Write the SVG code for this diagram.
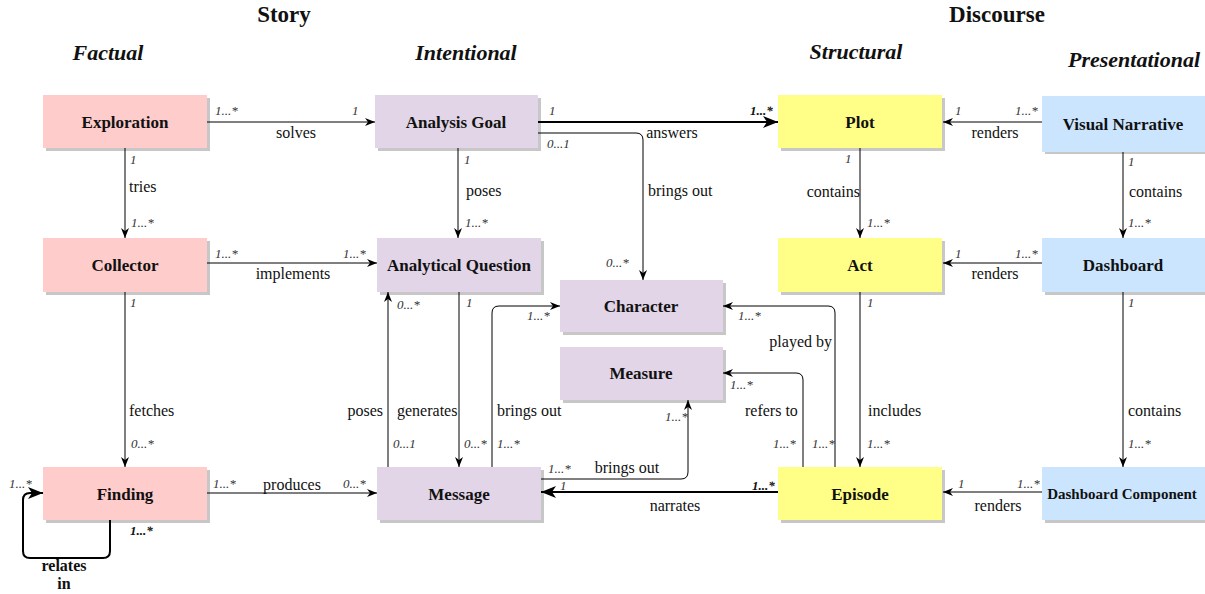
<svg xmlns="http://www.w3.org/2000/svg" width="1205" height="594" viewBox="0 0 1205 594" font-family="'Liberation Serif', 'Times New Roman', 'DejaVu Serif', serif">
<style>
text{font-family:'Liberation Serif','Times New Roman','DejaVu Serif',serif}
.hdr{font-size:23px;font-weight:bold;fill:#111;text-anchor:middle}
.sub{font-size:22px;font-weight:bold;font-style:italic;fill:#111;text-anchor:middle}
.nt{font-size:17px;font-weight:bold;fill:#111;text-anchor:middle;dominant-baseline:central}
.sh{fill:#000;opacity:0.22}
.pink{fill:#ffcccc}
.purp{fill:#e1d5e7}
.yel{fill:#ffff88}
.blue{fill:#cce5ff}
.ln{fill:none;stroke:#000;stroke-width:1}
.thk{fill:none;stroke:#000;stroke-width:2}
.lb{font-size:16px;fill:#111}
.m{font-size:13px;font-style:italic;fill:#333}
.mb{font-size:13px;font-style:italic;font-weight:bold;fill:#111}
.c{text-anchor:middle}
.e{text-anchor:end}
</style>
<defs>
<marker id="arr" markerUnits="userSpaceOnUse" markerWidth="10" markerHeight="10" viewBox="0 0 10 10" refX="10" refY="5" orient="auto">
<path d="M0,1 L10,5 L0,9 L3,5 z" fill="#000"/>
</marker>
<marker id="arrB" markerUnits="userSpaceOnUse" markerWidth="15" markerHeight="14" viewBox="0 0 15 14" refX="15" refY="7" orient="auto">
<path d="M0,1 L15,7 L0,13 L4,7 z" fill="#000"/>
</marker>
</defs>

<g id="headers">
<text class="hdr" x="284" y="22">Story</text>
<text class="hdr" x="997" y="22">Discourse</text>
<text class="sub" x="108" y="60">Factual</text>
<text class="sub" x="466" y="60">Intentional</text>
<text class="sub" x="856" y="59">Structural</text>
<text class="sub" x="1134" y="67">Presentational</text>
</g>

<g id="connectors">
<path class="ln" d="M207,122 H375" marker-end="url(#arr)"/>
<text class="m" x="215" y="115">1...*</text>
<text class="m" x="352" y="115">1</text>
<text class="lb c" x="296" y="138">solves</text>
<path class="ln" d="M125,148 V238" marker-end="url(#arr)"/>
<text class="m" x="130" y="164">1</text>
<text class="lb" x="129" y="192">tries</text>
<text class="m" x="131" y="227">1...*</text>
<path class="ln" d="M207,263 H377" marker-end="url(#arr)"/>
<text class="m" x="215" y="258">1...*</text>
<text class="m" x="343" y="258">1...*</text>
<text class="lb c" x="293" y="279">implements</text>
<path class="ln" d="M125,292 V467" marker-end="url(#arr)"/>
<text class="m" x="130" y="307">1</text>
<text class="lb" x="129" y="416">fetches</text>
<text class="m" x="131" y="448">0...*</text>
<path class="ln" d="M207,493 H377" marker-end="url(#arr)"/>
<text class="m" x="213" y="488">1...*</text>
<text class="m" x="343" y="488">0...*</text>
<text class="lb c" x="292" y="490">produces</text>
<path class="thk" d="M110,520 V551 Q110,558 103,558 H30 Q23,558 23,551 V500 Q23,493 30,493 H43" marker-end="url(#arrB)"/>
<text class="m" x="9" y="488">1...*</text>
<text class="mb" x="130" y="535">1...*</text>
<text class="lb c" x="64" y="571" font-weight="bold">relates</text>
<text class="lb c" x="64" y="589" font-weight="bold">in</text>
<path class="thk" d="M538,122 H778" marker-end="url(#arrB)"/>
<text class="m" x="549" y="115">1</text>
<text class="mb" x="750" y="115">1...*</text>
<text class="lb c" x="672" y="138">answers</text>
<path class="ln" d="M538,133 H636 Q643,133 643,140 V280" marker-end="url(#arr)"/>
<text class="m" x="547" y="148">0...1</text>
<text class="lb" x="648" y="196">brings out</text>
<text class="m" x="606" y="267">0...*</text>
<path class="ln" d="M458,148 V238" marker-end="url(#arr)"/>
<text class="m" x="464" y="164">1</text>
<text class="lb" x="466" y="196">poses</text>
<text class="m" x="465" y="227">1...*</text>
<path class="ln" d="M459,292 V467" marker-end="url(#arr)"/>
<text class="m" x="466" y="307">1</text>
<text class="lb" x="397" y="416">generates</text>
<text class="m" x="464" y="448">0...*</text>
<path class="ln" d="M388,467 V292" marker-end="url(#arr)"/>
<text class="m" x="393" y="448">0...1</text>
<text class="m" x="397" y="309">0...*</text>
<text class="lb e" x="383" y="416">poses</text>
<path class="ln" d="M492,467 V313 Q492,306 499,306 H560" marker-end="url(#arr)"/>
<text class="m" x="497" y="448">1...*</text>
<text class="lb" x="497" y="416">brings out</text>
<text class="m" x="527" y="320">1...*</text>
<path class="ln" d="M541,479 H681 Q688,479 688,472 V400" marker-end="url(#arr)"/>
<text class="m" x="548" y="473">1...*</text>
<text class="lb c" x="627" y="473">brings out</text>
<text class="m" x="665" y="421">1...*</text>
<path class="thk" d="M778,492 H541" marker-end="url(#arrB)"/>
<text class="m" x="560" y="490">1</text>
<text class="mb" x="752" y="490">1...*</text>
<text class="lb c" x="675" y="511">narrates</text>
<path class="ln" d="M835,467 V313 Q835,306 828,306 H723" marker-end="url(#arr)"/>
<text class="m" x="738" y="320">1...*</text>
<text class="lb e" x="832" y="347">played by</text>
<text class="m" x="812" y="448">1...*</text>
<path class="ln" d="M803,467 V380 Q803,373 796,373 H723" marker-end="url(#arr)"/>
<text class="m" x="730" y="389">1...*</text>
<text class="lb" x="745" y="416">refers to</text>
<text class="m" x="773" y="448">1...*</text>
<path class="ln" d="M860,148 V238" marker-end="url(#arr)"/>
<text class="m" x="845" y="163">1</text>
<text class="lb e" x="860" y="197">contains</text>
<text class="m" x="867" y="227">1...*</text>
<path class="ln" d="M860,292 V467" marker-end="url(#arr)"/>
<text class="m" x="867" y="307">1</text>
<text class="lb" x="868" y="416">includes</text>
<text class="m" x="867" y="448">1...*</text>
<path class="ln" d="M1042,122 H943" marker-end="url(#arr)"/>
<text class="m" x="955" y="115">1</text>
<text class="m" x="1015" y="115">1...*</text>
<text class="lb c" x="995" y="138">renders</text>
<path class="ln" d="M1042,263 H943" marker-end="url(#arr)"/>
<text class="m" x="955" y="258">1</text>
<text class="m" x="1015" y="258">1...*</text>
<text class="lb c" x="995" y="279">renders</text>
<path class="ln" d="M1123,152 V238" marker-end="url(#arr)"/>
<text class="m" x="1128" y="166">1</text>
<text class="lb" x="1129" y="197">contains</text>
<text class="m" x="1128" y="227">1...*</text>
<path class="ln" d="M1123,292 V467" marker-end="url(#arr)"/>
<text class="m" x="1128" y="307">1</text>
<text class="lb" x="1128" y="416">contains</text>
<text class="m" x="1128" y="448">1...*</text>
<path class="ln" d="M1042,492 H943" marker-end="url(#arr)"/>
<text class="m" x="958" y="488">1</text>
<text class="m" x="1017" y="488">1...*</text>
<text class="lb c" x="998" y="511">renders</text>
</g>

<g id="exploration"><rect class="sh" x="46" y="98" width="164" height="53"/><rect class="pink" x="43" y="95" width="164" height="53"/><text class="nt" x="125" y="122">Exploration</text></g>
<g id="collector"><rect class="sh" x="46" y="241" width="164" height="54"/><rect class="pink" x="43" y="238" width="164" height="54"/><text class="nt" x="125" y="265">Collector</text></g>
<g id="finding"><rect class="sh" x="46" y="470" width="164" height="53"/><rect class="pink" x="43" y="467" width="164" height="53"/><text class="nt" x="125" y="494">Finding</text></g>
<g id="analysis-goal"><rect class="sh" x="378" y="98" width="163" height="53"/><rect class="purp" x="375" y="95" width="163" height="53"/><text class="nt" x="456" y="122">Analysis Goal</text></g>
<g id="analytical-question"><rect class="sh" x="380" y="241" width="164" height="54"/><rect class="purp" x="377" y="238" width="164" height="54"/><text class="nt" x="459" y="265">Analytical Question</text></g>
<g id="character"><rect class="sh" x="563" y="283" width="163" height="52"/><rect class="purp" x="560" y="280" width="163" height="52"/><text class="nt" x="641" y="306">Character</text></g>
<g id="measure"><rect class="sh" x="563" y="350" width="163" height="53"/><rect class="purp" x="560" y="347" width="163" height="53"/><text class="nt" x="641" y="373">Measure</text></g>
<g id="message"><rect class="sh" x="380" y="470" width="164" height="53"/><rect class="purp" x="377" y="467" width="164" height="53"/><text class="nt" x="459" y="494">Message</text></g>
<g id="plot"><rect class="sh" x="781" y="98" width="164" height="53"/><rect class="yel" x="778" y="95" width="164" height="53"/><text class="nt" x="860" y="122">Plot</text></g>
<g id="act"><rect class="sh" x="781" y="241" width="164" height="54"/><rect class="yel" x="778" y="238" width="164" height="54"/><text class="nt" x="860" y="265">Act</text></g>
<g id="episode"><rect class="sh" x="781" y="470" width="164" height="53"/><rect class="yel" x="778" y="467" width="164" height="53"/><text class="nt" x="860" y="494">Episode</text></g>
<g id="visual-narrative"><rect class="sh" x="1045" y="99" width="163" height="55"/><rect class="blue" x="1042" y="96" width="163" height="56"/><text class="nt" x="1123" y="124">Visual Narrative</text></g>
<g id="dashboard"><rect class="sh" x="1045" y="241" width="163" height="54"/><rect class="blue" x="1042" y="238" width="163" height="54"/><text class="nt" x="1123" y="265">Dashboard</text></g>
<g id="dashboard-component"><rect class="sh" x="1045" y="470" width="163" height="53"/><rect class="blue" x="1042" y="467" width="163" height="53"/><text class="nt" x="1122" y="494" style="font-size:15px">Dashboard Component</text></g>
</svg>
